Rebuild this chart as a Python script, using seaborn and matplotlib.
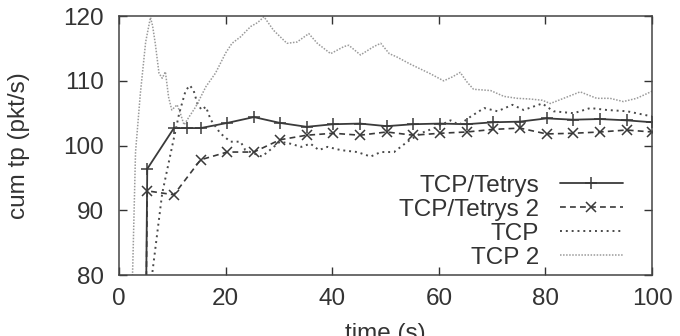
import numpy as np
import pandas as pd
import matplotlib
matplotlib.use("Agg")
import matplotlib.pyplot as plt
import seaborn as sns

# ── data ─────────────────────────────────────────────────────────────────────
tetrys_t = [4.9, 5.3, 10.3, 12.8, 15.3, 20.3, 25.3, 30.2, 35.2, 40.2, 45.2, 50.2,
            55.2, 60.2, 65.2, 70.2, 75.2, 80.2, 85.2, 90.2, 95.2, 100.0]
tetrys_tp = [60.0, 96.4, 102.7, 102.7, 102.7, 103.5, 104.4, 103.5, 102.9, 103.3, 103.4,
             103.0, 103.3, 103.4, 103.3, 103.6, 103.7, 104.2, 104.0, 104.1, 103.9, 103.6]

tetrys2_t = [4.9, 5.3, 10.3, 15.3, 20.3, 25.3, 30.2, 35.2, 40.2, 45.2, 50.2, 55.2,
             60.2, 65.2, 70.2, 75.2, 80.2, 85.2, 90.2, 95.2, 100.0]
tetrys2_tp = [60.0, 93.0, 92.4, 97.8, 99.0, 99.0, 100.9, 101.6, 101.9, 101.6, 102.1,
              101.6, 101.9, 102.1, 102.5, 102.7, 101.8, 101.9, 102.1, 102.4, 102.1]

tcp_t = [5.6, 6.2, 8.1, 10.0, 11.3, 12.5, 13.3, 14.0, 14.7, 15.5, 16.3, 17.2, 19.0,
         20.9, 22.8, 23.7, 26.8, 28.3, 30.2, 32.1, 34.2, 35.9, 37.5, 39.1, 41.6,
         44.7, 47.2, 49.1, 51.6, 54.1, 56.6, 59.7, 62.2, 63.8, 66.0, 68.5, 71.0,
         73.8, 75.9, 79.4, 81.5, 85.3, 88.4, 91.5, 95.3, 100.0]
tcp_tp = [76.0, 80.0, 92.6, 100.0, 105.0, 108.5, 109.3, 108.5, 106.5, 105.5, 106.0,
          104.0, 101.9, 100.6, 100.6, 99.3, 98.3, 99.3, 100.6, 100.3, 99.8, 100.3,
          99.3, 99.8, 99.3, 99.0, 98.3, 99.0, 99.0, 100.6, 101.9, 102.9, 103.9,
          103.2, 104.5, 105.8, 105.3, 106.3, 105.5, 106.5, 105.3, 105.0, 105.8,
          105.5, 105.3, 104.5]

tcp2_t = [2.2, 2.6, 3.1, 4.0, 5.0, 5.9, 6.3, 6.8, 7.5, 8.1, 8.7, 9.3, 9.9, 10.9,
          11.5, 12.2, 13.2, 14.4, 16.3, 18.1, 20.0, 21.2, 22.8, 24.7, 26.0, 27.2,
          29.0, 31.5, 33.4, 35.6, 37.2, 39.7, 42.2, 43.1, 45.3, 47.8, 49.1, 50.7,
          52.1, 54.6, 58.4, 60.9, 62.5, 64.0, 65.3, 66.5, 69.7, 72.2, 74.7, 77.0,
          79.4, 80.9, 83.4, 86.5, 89.6, 92.1, 94.6, 97.1, 100.0]
tcp2_tp = [70.0, 82.0, 99.0, 108.0, 116.0, 119.8, 118.5, 115.8, 111.2, 110.4,
           111.4, 107.5, 105.5, 106.3, 105.0, 103.2, 104.5, 106.0, 109.1, 111.2,
           114.3, 115.8, 116.8, 118.4, 119.0, 119.9, 117.8, 115.8, 116.0, 117.3,
           115.8, 114.2, 115.3, 115.5, 114.0, 115.3, 115.8, 114.2, 113.7, 112.6,
           111.1, 110.0, 110.6, 111.3, 109.8, 108.7, 108.5, 107.6, 107.3, 107.2,
           107.0, 106.5, 107.3, 108.3, 107.3, 107.3, 106.8, 107.3, 108.4]

x_ticks = [0, 20, 40, 60, 80, 100]
y_ticks = [80, 90, 100, 110, 120]

sns.set_style("ticks")
plt.rcParams["font.family"] = ["Liberation Sans", "DejaVu Sans"]

fig = plt.figure(figsize=(6.8, 3.36), dpi=100)
ax = fig.add_axes([0.175, 0.1815, 0.784, 0.7705])

dark = "#3a3a3a"
series = [
    ("TCP/Tetrys",   tetrys_t,  tetrys_tp,  dict(color=dark, lw=1.3, ls="-",
                                                 marker="+", markersize=8,
                                                 markeredgewidth=1.1,
                                                 markeredgecolor=dark)),
    ("TCP/Tetrys 2", tetrys2_t, tetrys2_tp, dict(color=dark, lw=1.2, ls=(0, (3.5, 2.5)),
                                                 marker="x", markersize=7,
                                                 markeredgewidth=1.1,
                                                 markeredgecolor=dark)),
    ("TCP",          tcp_t,     tcp_tp,     dict(color="#4a4a4a", lw=1.4, ls=(0, (1, 2)))),
    ("TCP 2",        tcp2_t,    tcp2_tp,    dict(color="#9a9a9a", lw=1.1, ls=(0, (1, 1)))),
]

for name, t, tp, style in series:
    df = pd.DataFrame({"time": t, "tp": tp})
    sns.lineplot(data=df, x="time", y="tp", ax=ax, sort=False, estimator=None,
                 label=name, **style)

ax.set_xlim(0, 100)
ax.set_ylim(80, 120)
ax.set_xticks(x_ticks)
ax.set_yticks(y_ticks)
ax.tick_params(direction="in", length=6, width=1, colors="#333333", labelsize=17.5,
               top=True, right=True, labelcolor="#333333")
ax.tick_params(axis="x", pad=9)
ax.tick_params(axis="y", pad=11)
for sp in ax.spines.values():
    sp.set_color("#444444")
    sp.set_linewidth(1.1)

ax.set_xlabel("time (s)", fontsize=17.5, color="#333333", labelpad=10)
ax.set_ylabel("cum tp (pkt/s)", fontsize=17.5, color="#333333", labelpad=24)

leg = ax.legend(loc="lower right", bbox_to_anchor=(0.945, 0.025), frameon=False,
                markerfirst=False, fontsize=17.5, handlelength=2.6, handletextpad=0.85,
                labelspacing=0.08, borderpad=0, borderaxespad=0)
# right-align the label texts like gnuplot does
leg._legend_box._children[-1]._children[0].align = "right"
for txt in leg.get_texts():
    txt.set_color("#333333")

fig.savefig("out.png", dpi=100)
